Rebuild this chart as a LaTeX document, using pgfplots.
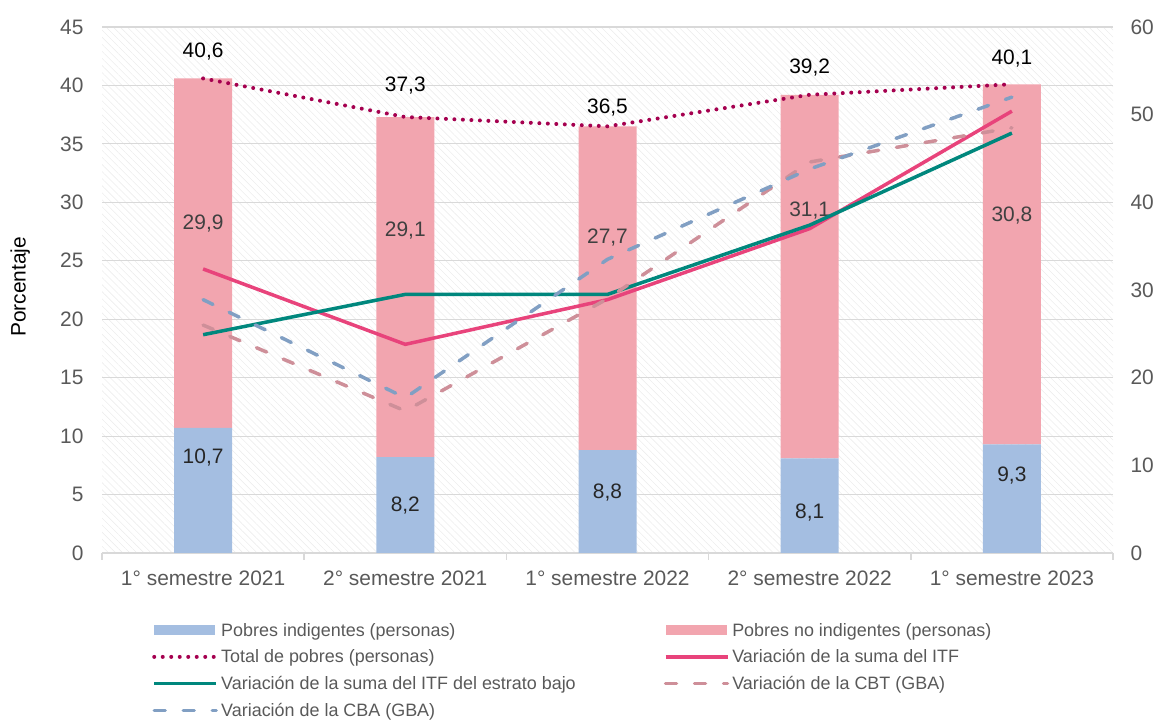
\documentclass[border=0pt]{standalone}
\usepackage{fontspec}
\setmainfont{Liberation Sans}
\usepackage{pgfplots}
\pgfplotsset{compat=1.18}
\usetikzlibrary{patterns.meta}

\definecolor{cInd}{HTML}{A4BEE1}
\definecolor{cNoInd}{HTML}{F2A5AF}
\definecolor{cTot}{HTML}{A5004F}
\definecolor{cITF}{HTML}{E8437B}
\definecolor{cBajo}{HTML}{00877D}
\definecolor{cCBT}{HTML}{CE8F99}
\definecolor{cCBA}{HTML}{819FC3}
\definecolor{cGrid}{HTML}{D9D9D9}
\definecolor{cTick}{HTML}{595959}
\definecolor{cLabA}{HTML}{262626}
\definecolor{cLabB}{HTML}{404040}

\pgfplotsset{
  base/.style={scale only axis, width=1011bp, height=526bp,
    at={(102bp,167bp)}, anchor=south west, xmin=-0.5, xmax=4.5},
  tl/.style={font=\fontsize{21}{24}\selectfont, text=cTick},
  lineleg/.style={legend image code/.code={\draw[##1] (0bp,0bp) -- (62bp,0bp);}},
  barleg/.style={legend image code/.code={\fill[##1] (0bp,-5bp) rectangle (61bp,5bp);}},
  dsh/.style={dash pattern=on 11bp off 18bp, line cap=round},
}

\pgfplotstableread{
x ind noind tot
0 10.7 29.9 40.6
1 8.2 29.1 37.3
2 8.8 27.7 36.5
3 8.1 31.1 39.2
4 9.3 30.8 40.1
}\bars

\pgfplotstableread{
x y lab
0 42.9 40,6
1 40.0 37,3
2 38.1 36,5
3 41.5 39,2
4 42.3 40,1
}\totlab

\pgfplotstableread{
x y lab
0 8.2 10,7
1 4.1 8,2
2 5.2 8,8
3 3.5 8,1
4 6.6 9,3
}\indlab

\pgfplotstableread{
x y lab
0 28.2 29,9
1 27.6 29,1
2 27.0 27,7
3 29.3 31,1
4 28.9 30,8
}\noindlab

\pgfplotstableread{
x itf bajo cbt cba
0 32.4 24.9 26.0 28.9
1 23.8 29.5 16.2 17.7
2 28.9 29.5 29.0 33.5
3 37.0 37.4 44.6 43.8
4 50.4 47.9 48.5 52.0
}\lines

\begin{document}
\begin{tikzpicture}
\useasboundingbox (0,0) rectangle (1165bp,720bp);

% Axis A: bars, grid, left axis
\begin{axis}[base,
  ymin=0, ymax=45, ytick={0,5,...,45},
  ymajorgrids, grid style={cGrid, line width=1.2bp},
  axis background/.style={pattern={Lines[angle=-45,distance=5bp,line width=0.6bp]}, pattern color=black!7},
  axis x line*=bottom, axis y line*=left,
  y axis line style={draw=none},
  x axis line style={cGrid, line width=1.5bp, -},
  xtick={0,...,4},
  xticklabels={1° semestre 2021, 2° semestre 2021, 1° semestre 2022, 2° semestre 2022, 1° semestre 2023},
  minor xtick={-0.5,0.5,1.5,2.5,3.5,4.5},
  tick align=outside, major tick length=0bp, minor tick length=7bp,
  minor x tick style={cGrid, line width=1.5bp},
  ytick style={draw=none},
  ticklabel style={tl},
  xticklabel style={yshift=-14bp},
  yticklabel style={xshift=-15bp},
  /pgf/number format/assume math mode=true,
  ylabel={Porcentaje},
  ylabel style={at={(axis description cs:-0.081,0.506)}, anchor=center, font=\fontsize{21}{24}\selectfont, text=black},
  ybar stacked, bar width=58bp,
]
\addplot[fill=cInd, draw=none] table[x=x, y=ind] {\bars};
\addplot[fill=cNoInd, draw=none] table[x=x, y=noind] {\bars};
\end{axis}

% Axis B: total line and labels, left scale
\begin{axis}[base, ymin=0, ymax=45, hide axis, clip=false]
\addplot[cTot, line width=4bp, dash pattern=on 0bp off 8.5bp, line cap=round]
  table[x=x, y=tot] {\bars};
\addplot[draw=none, mark=none, nodes near coords, point meta=explicit symbolic,
  every node near coord/.append style={anchor=center, inner sep=0pt, font=\fontsize{21}{24}\selectfont, text=black}]
  table[x=x, y=y, meta=lab] {\totlab};
\addplot[draw=none, mark=none, nodes near coords, point meta=explicit symbolic,
  every node near coord/.append style={anchor=center, inner sep=0pt, font=\fontsize{21}{24}\selectfont, text=cLabA}]
  table[x=x, y=y, meta=lab] {\indlab};
\addplot[draw=none, mark=none, nodes near coords, point meta=explicit symbolic,
  every node near coord/.append style={anchor=center, inner sep=0pt, font=\fontsize{21}{24}\selectfont, text=cLabB}]
  table[x=x, y=y, meta=lab] {\noindlab};
\end{axis}

% Axis C: lines, right scale, legend
\begin{axis}[base, ymin=0, ymax=60, ytick={0,10,...,60},
  axis x line=none, axis y line*=right,
  y axis line style={draw=none}, ytick style={draw=none},
  ticklabel style={tl}, yticklabel style={anchor=west, xshift=14bp},
  /pgf/number format/assume math mode=true,
  legend columns=2,
  legend style={at={(axis description cs:0.0495,-0.1293)}, anchor=north west,
    draw=none, fill=none, inner sep=0pt,
    font=\fontsize{18}{21}\selectfont, text=cTick,
    cells={anchor=west}, row sep=8.7bp,
    nodes={inner xsep=3bp, inner ysep=0pt, text height=15bp, text depth=3bp},
    /tikz/every even column/.append style={column sep=85bp}},
  legend cell align=left,
]
\addlegendimage{barleg, fill=cInd, draw=none}
\addlegendentry{Pobres indigentes (personas)}
\addlegendimage{barleg, fill=cNoInd, draw=none}
\addlegendentry{Pobres no indigentes (personas)}
\addlegendimage{lineleg, cTot, line width=4bp, dash pattern=on 0bp off 8.5bp, line cap=round}
\addlegendentry{Total de pobres (personas)}
\addlegendimage{lineleg, cITF, line width=3.5bp}
\addlegendentry{Variación de la suma del ITF}
\addlegendimage{lineleg, cBajo, line width=3.5bp}
\addlegendentry{Variación de la suma del ITF del estrato bajo}
\addlegendimage{lineleg, cCBT, line width=3.5bp, dsh}
\addlegendentry{Variación de la CBT (GBA)}
\addlegendimage{lineleg, cCBA, line width=3.5bp, dsh}
\addlegendentry{Variación de la CBA (GBA)}

\addplot[forget plot, cITF, line width=3.5bp] table[x=x, y=itf] {\lines};
\addplot[forget plot, cBajo, line width=3.5bp] table[x=x, y=bajo] {\lines};
\addplot[forget plot, cCBT, line width=3.5bp, dsh] table[x=x, y=cbt] {\lines};
\addplot[forget plot, cCBA, line width=3.5bp, dsh] table[x=x, y=cba] {\lines};
\end{axis}
\end{tikzpicture}
\end{document}
